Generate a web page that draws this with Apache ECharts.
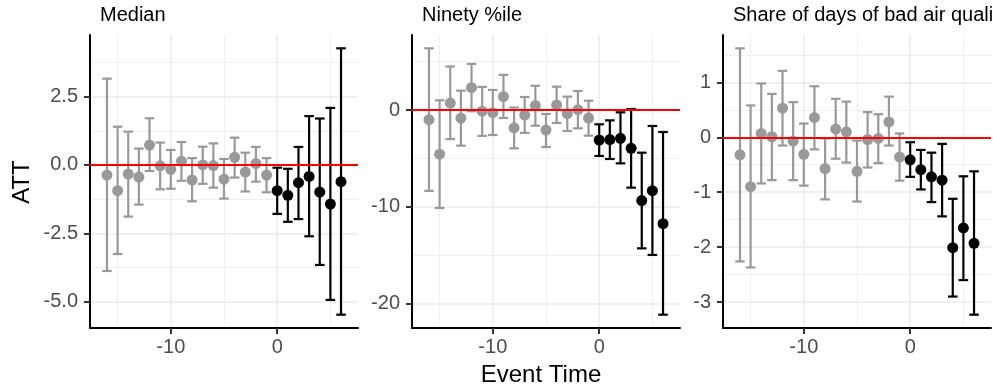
<!DOCTYPE html>
<html>
<head>
<meta charset="utf-8">
<script src="https://cdn.jsdelivr.net/npm/echarts@6/dist/echarts.min.js"></script>
<style>
html,body{margin:0;padding:0;background:#fff;}
#chart{width:993px;height:389px;}
</style>
</head>
<body>
<div id="chart"></div>
<script>
// ---- data ----
var eventTime = [-16,-15,-14,-13,-12,-11,-10,-9,-8,-7,-6,-5,-4,-3,-2,-1,0,1,2,3,4,5,6];

var panelTitles = ["Median", "Ninety %ile", "Share of days of bad air quality"];

var medianEst = [-0.37,-0.94,-0.33,-0.44,0.73,-0.03,-0.16,0.14,-0.55,0.00,-0.02,-0.52,0.28,-0.26,0.05,-0.37,-0.94,-1.11,-0.65,-0.42,-0.99,-1.43,-0.61];
var medianLo  = [-3.88,-3.26,-1.89,-1.45,-0.22,-0.89,-0.87,-0.58,-1.33,-0.69,-0.83,-1.23,-0.46,-0.97,-0.61,-1.00,-1.79,-2.08,-1.98,-2.61,-3.66,-4.94,-5.48];
var medianHi  = [3.16,1.40,1.22,0.60,1.71,0.82,0.55,0.84,0.25,0.67,0.79,0.22,1.00,0.45,0.66,0.25,-0.10,-0.14,0.66,1.79,1.70,2.09,4.27];

var ninetyEst = [-1.00,-4.56,0.71,-0.84,2.31,-0.12,-0.28,1.39,-1.84,-0.52,0.46,-2.07,0.52,-0.38,0.03,-0.83,-3.10,-3.06,-2.93,-3.96,-9.36,-8.33,-11.74];
var ninetyLo  = [-8.35,-10.12,-3.01,-3.68,-0.13,-2.67,-2.58,-0.83,-3.96,-2.36,-1.62,-3.82,-1.34,-2.17,-1.89,-2.65,-4.75,-5.06,-5.51,-8.02,-14.29,-14.97,-21.14];
var ninetyHi  = [6.37,1.00,4.49,2.00,4.76,2.38,2.07,3.63,0.26,1.34,2.50,-0.41,2.41,1.38,1.96,0.96,-1.48,-1.07,-0.24,0.10,-4.41,-1.65,-2.27];

var shareEst = [-0.32,-0.90,0.07,0.01,0.53,-0.07,-0.31,0.36,-0.57,0.15,0.10,-0.62,-0.04,-0.02,0.28,-0.36,-0.41,-0.59,-0.72,-0.78,-2.01,-1.65,-1.93];
var shareLo  = [-2.26,-2.37,-0.84,-0.78,-0.15,-0.78,-0.88,-0.22,-1.13,-0.39,-0.46,-1.17,-0.55,-0.47,-0.15,-0.79,-0.72,-0.95,-1.18,-1.44,-2.90,-2.60,-3.23];
var shareHi  = [1.62,0.58,0.98,0.79,1.21,0.64,0.25,0.93,-0.02,0.70,0.65,-0.06,0.46,0.42,0.74,0.07,-0.09,-0.23,-0.28,-0.12,-1.12,-0.71,-0.62];

// tick labels / breaks
var xMajorTicks = [-10, 0];
var xMinorTicks = [-15, -5, 5];
var yMajorTicks = [[-5, -2.5, 0, 2.5], [-20, -10, 0], [-3, -2, -1, 0, 1]];
var yMinorTicks = [[-3.75, -1.25, 1.25, 3.75], [-15, -5, 5], [-2.5, -1.5, -0.5, 0.5, 1.5]];
var yLabelDigits = [1, 0, 0];

// ---- layout / style ----
var FONT = "'Liberation Sans', Arial, Helvetica, sans-serif";
var capWidth = 0.9;
var panels = [
  {est: medianEst, lo: medianLo, hi: medianHi, left: 90},
  {est: ninetyEst, lo: ninetyLo, hi: ninetyHi, left: 412},
  {est: shareEst,  lo: shareLo,  hi: shareHi,  left: 723}
];
var plotTop = 35, plotHeight = 293, plotWidth = 268;

function expand(lo, hi, f) { var s = hi - lo; return [lo - s * f, hi + s * f]; }
var xRange = expand(Math.min.apply(null, eventTime) - capWidth / 2, Math.max.apply(null, eventTime) + capWidth / 2, 0.05);

var grids = [], xAxes = [], yAxes = [], series = [], graphics = [];
var GREY = '#999999', BLACK = '#000000';

panels.forEach(function (p, i) {
  var yr = expand(Math.min.apply(null, p.lo), Math.max.apply(null, p.hi), 0.05);
  grids.push({left: p.left, top: plotTop, width: plotWidth, height: plotHeight, containLabel: false});
  // main x axis
  xAxes.push({
    type: 'value', gridIndex: i, min: xRange[0], max: xRange[1], position: 'bottom',
    axisLine: {show: true, onZero: false, lineStyle: {color: '#000', width: 2}},
    axisTick: {show: true, customValues: xMajorTicks, length: 6, lineStyle: {color: '#333', width: 2}},
    axisLabel: {customValues: xMajorTicks, color: '#4D4D4D', fontSize: 20, fontFamily: FONT, margin: 9},
    splitLine: {show: true, lineStyle: {color: '#EBEBEB', width: 1.5}}
  });
  // minor x grid
  xAxes.push({
    type: 'value', gridIndex: i, min: xRange[0], max: xRange[1], position: 'bottom',
    axisLine: {show: false, onZero: false},
    axisTick: {show: false, customValues: xMinorTicks},
    axisLabel: {show: false, customValues: xMinorTicks},
    splitLine: {show: true, lineStyle: {color: '#EBEBEB', width: 0.8}}
  });
  var digits = yLabelDigits[i];
  yAxes.push({
    type: 'value', gridIndex: i, min: yr[0], max: yr[1], position: 'left',
    axisLine: {show: true, onZero: false, lineStyle: {color: '#000', width: 2}},
    axisTick: {show: true, customValues: yMajorTicks[i], length: 6, lineStyle: {color: '#333', width: 2}},
    axisLabel: {customValues: yMajorTicks[i], color: '#4D4D4D', fontSize: 20, fontFamily: FONT, margin: 12,
      formatter: function (v) { return Number(v).toFixed(digits); }},
    splitLine: {show: true, lineStyle: {color: '#EBEBEB', width: 1.5}}
  });
  yAxes.push({
    type: 'value', gridIndex: i, min: yr[0], max: yr[1], position: 'left',
    axisLine: {show: false, onZero: false},
    axisTick: {show: false, customValues: yMinorTicks[i]},
    axisLabel: {show: false, customValues: yMinorTicks[i]},
    splitLine: {show: true, lineStyle: {color: '#EBEBEB', width: 0.8}}
  });

  var xi = i * 2, yi = i * 2;
  // red zero line
  series.push({
    type: 'line', xAxisIndex: xi, yAxisIndex: yi, data: [], z: 1, silent: true,
    markLine: {silent: true, symbol: ['none', 'none'], label: {show: false},
      lineStyle: {color: '#FF0000', width: 2, type: 'solid'},
      emphasis: {disabled: true},
      data: [{yAxis: 0}]}
  });
  // error bars
  var ebData = eventTime.map(function (t, k) { return [t, p.lo[k], p.hi[k]]; });
  series.push({
    type: 'custom', xAxisIndex: xi, yAxisIndex: yi, z: 2, silent: true,
    data: ebData,
    renderItem: function (params, api) {
      var x = api.value(0), lo = api.value(1), hi = api.value(2);
      var a = api.coord([x, hi]), b = api.coord([x, lo]);
      var half = api.size([capWidth, 0])[0] / 2;
      var col = x >= 0 ? BLACK : GREY;
      var st = {stroke: col, lineWidth: 2.2, fill: null};
      return {type: 'group', children: [
        {type: 'line', shape: {x1: a[0], y1: a[1], x2: b[0], y2: b[1]}, style: st},
        {type: 'line', shape: {x1: a[0] - half, y1: a[1], x2: a[0] + half, y2: a[1]}, style: st},
        {type: 'line', shape: {x1: b[0] - half, y1: b[1], x2: b[0] + half, y2: b[1]}, style: st}
      ]};
    }
  });
  // points
  series.push({
    type: 'scatter', xAxisIndex: xi, yAxisIndex: yi, z: 3, silent: true,
    symbol: 'circle', symbolSize: 11,
    data: eventTime.map(function (t, k) { return [t, p.est[k]]; }),
    itemStyle: {opacity: 1, color: function (prm) { return prm.value[0] >= 0 ? BLACK : GREY; }}
  });

  graphics.push({
    type: 'text', left: p.left + 10, top: 5,
    style: {text: panelTitles[i], fill: '#000', font: '20px ' + FONT}
  });
});

graphics.push({
  type: 'text', x: 22, y: 182, rotation: Math.PI / 2,
  style: {text: 'ATT', fill: '#000', font: '24px ' + FONT, align: 'center', verticalAlign: 'middle'}
});
graphics.push({
  type: 'text', x: 541, y: 375,
  style: {text: 'Event Time', fill: '#000', font: '24px ' + FONT, align: 'center', verticalAlign: 'middle'}
});

var chart = echarts.init(document.getElementById('chart'), null, {renderer: 'canvas'});
chart.setOption({
  animation: false,
  backgroundColor: '#ffffff',
  grid: grids,
  xAxis: xAxes,
  yAxis: yAxes,
  series: series,
  graphic: graphics
});
</script>
</body>
</html>
